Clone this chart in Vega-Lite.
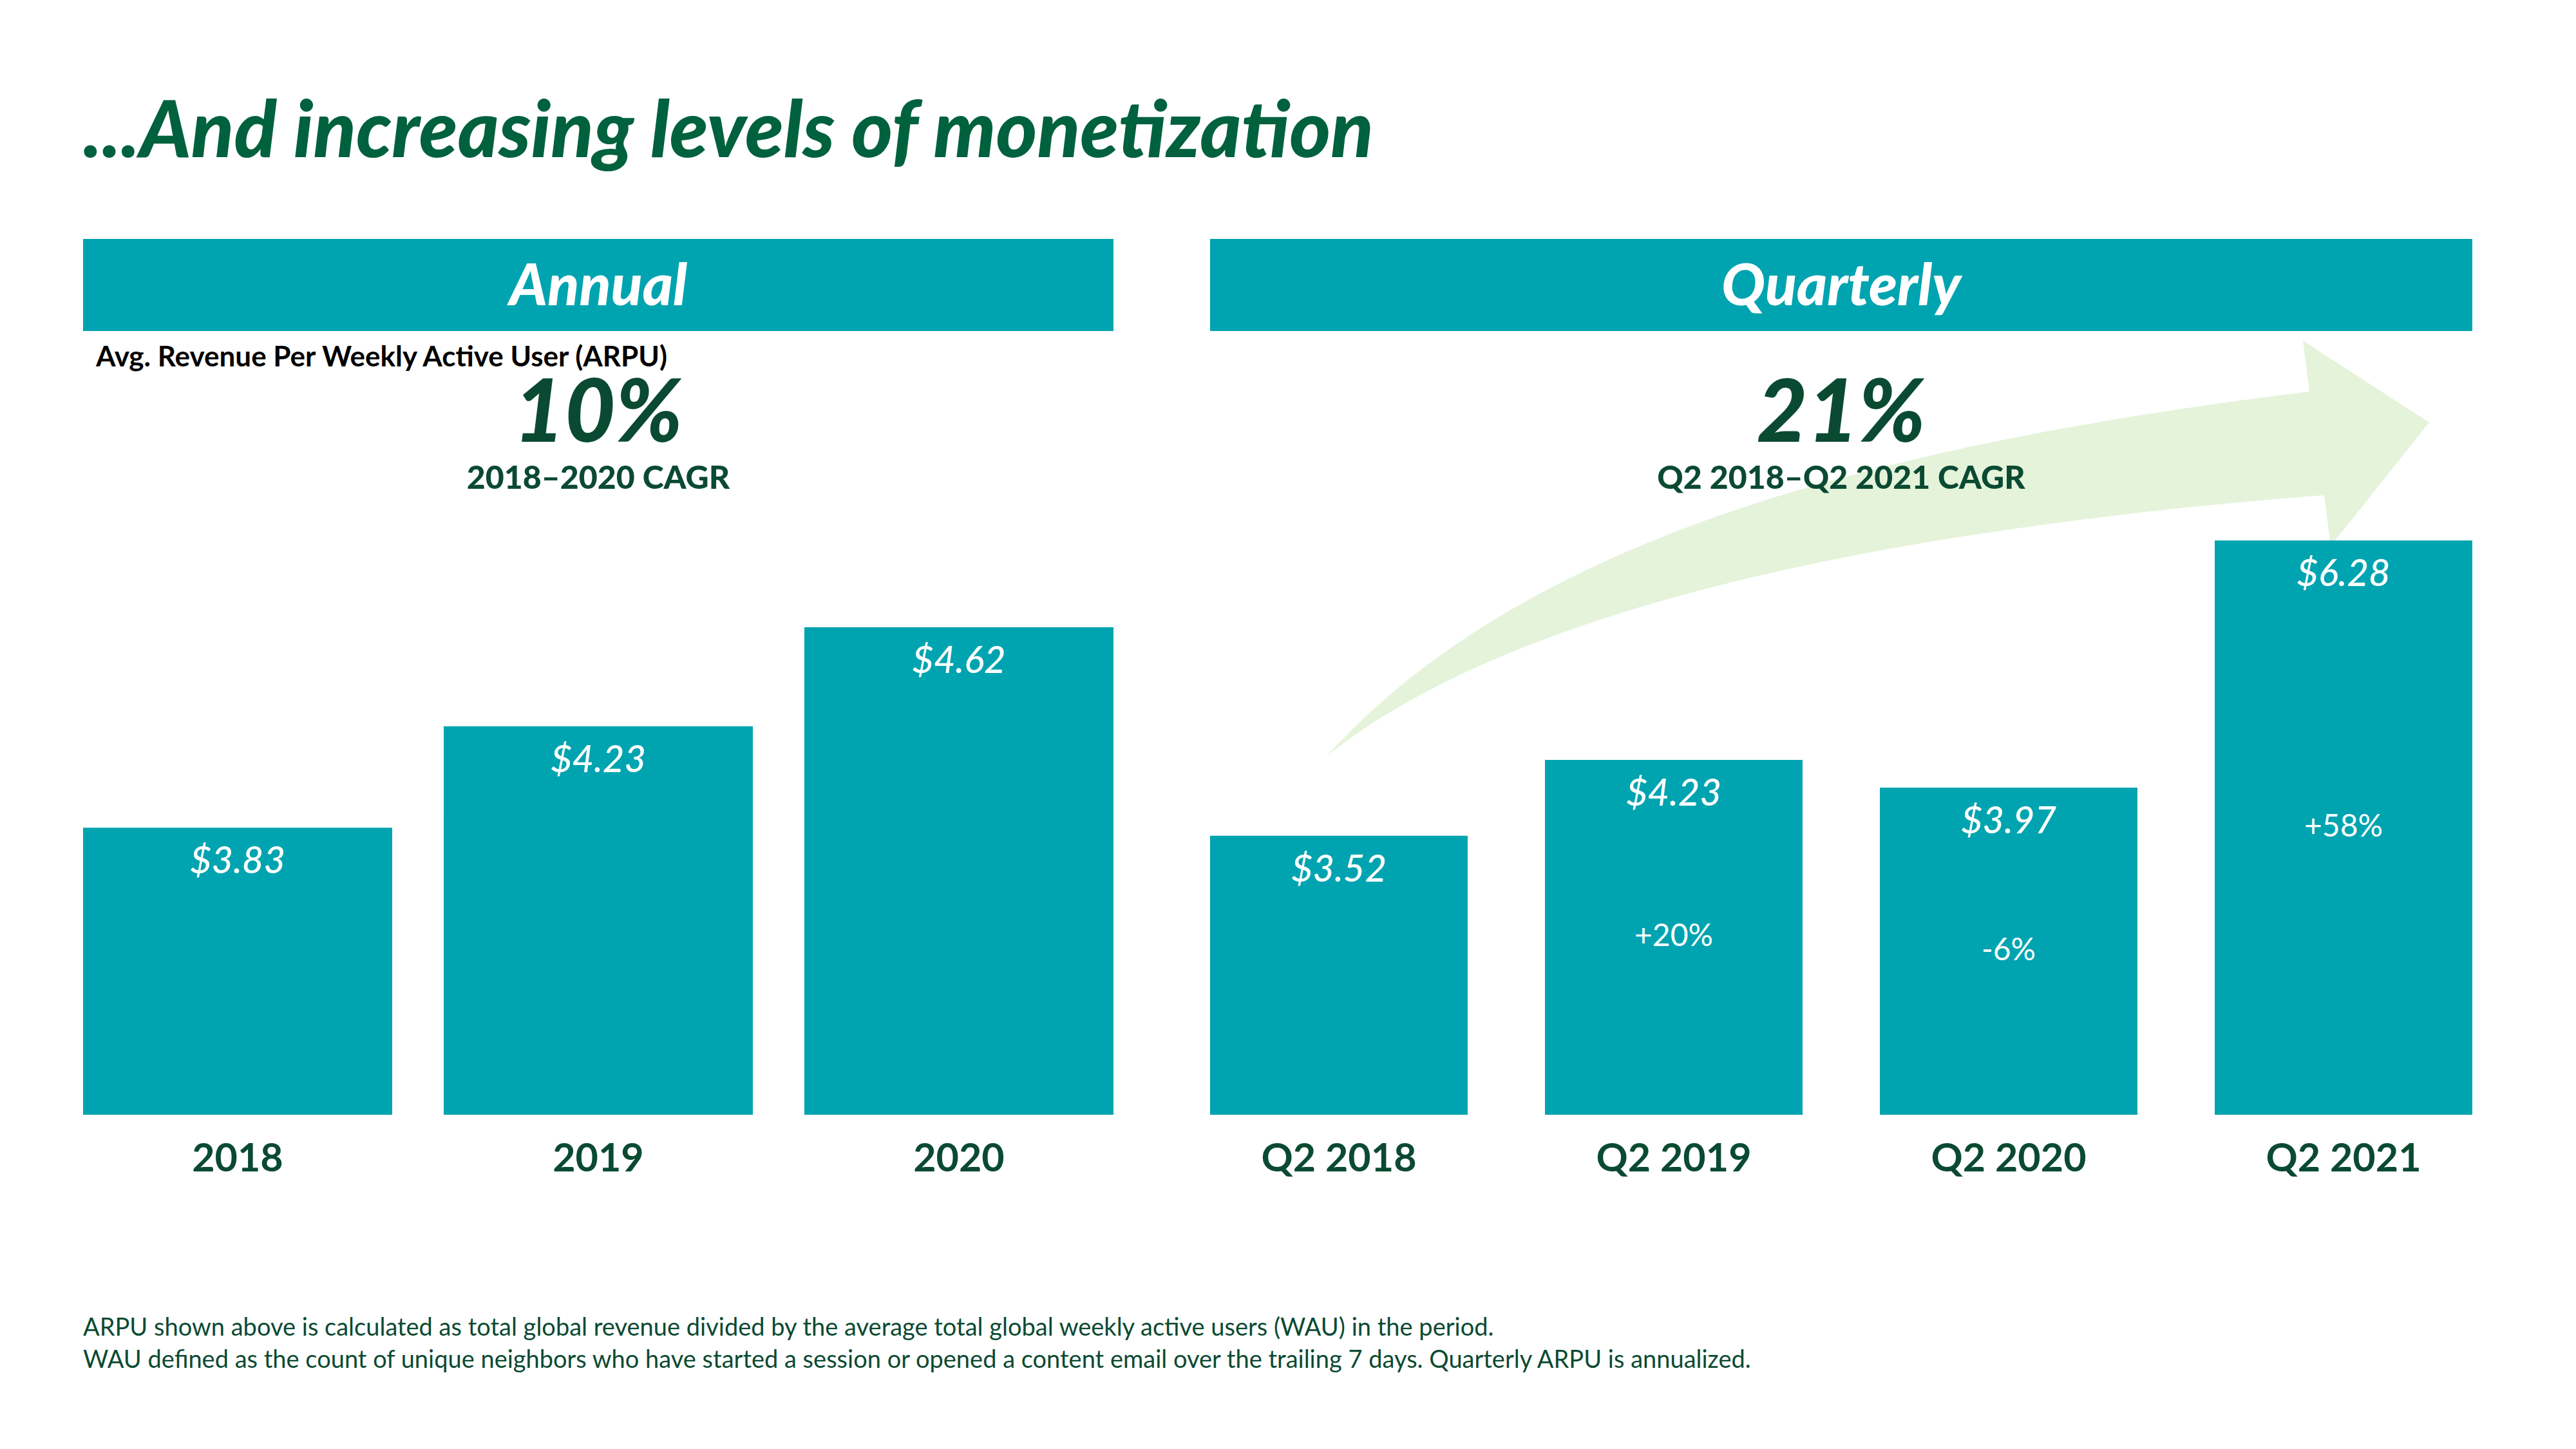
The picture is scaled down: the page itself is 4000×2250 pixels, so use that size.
{
  "$schema": "https://vega.github.io/schema/vega-lite/v6.json",
  "background": "white",
  "padding": {"left": 129, "top": 146, "right": 20, "bottom": 20},
  "config": {
    "font": "Lato",
    "view": {"stroke": null},
    "axis": {"grid": false}
  },
  "title": {
    "text": "...And increasing levels of monetization",
    "anchor": "start",
    "fontSize": 122,
    "fontStyle": "italic",
    "fontWeight": 900,
    "color": "#00613e",
    "offset": 101
  },
  "datasets": {
    "annual": [
      {"period": "2018", "arpu": 3.83},
      {"period": "2019", "arpu": 4.23},
      {"period": "2020", "arpu": 4.62}
    ],
    "quarterly": [
      {"period": "Q2 2018", "arpu": 3.52, "change": null},
      {"period": "Q2 2019", "arpu": 4.23, "change": "+20%"},
      {"period": "Q2 2020", "arpu": 3.97, "change": "-6%"},
      {"period": "Q2 2021", "arpu": 6.28, "change": "+58%"}
    ],
    "headers": [
      {"panel": "Annual"},
      {"panel": "Quarterly"}
    ]
  },
  "vconcat": [
    {
      "title": {
        "text": [
          "ARPU shown above is calculated as total global revenue divided by the average total global weekly active users (WAU) in the period.",
          "WAU defined as the count of unique neighbors who have started a session or opened a content email over the trailing 7 days. Quarterly ARPU is annualized."
        ],
        "orient": "bottom",
        "anchor": "start",
        "fontSize": 38,
        "lineHeight": 50,
        "fontWeight": "normal",
        "color": "#0b4a32",
        "offset": 214
      },
      "spacing": 150,
      "hconcat": [
        {
          "bounds": "flush",
          "spacing": 287,
          "vconcat": [
            {
              "width": 1600,
              "height": 143,
              "view": {"fill": "#00a4b0", "stroke": null},
              "data": {"name": "headers"},
              "transform": [{"filter": "datum.panel == 'Annual'"}],
              "title": {
                "text": "Avg. Revenue Per Weekly Active User (ARPU)",
                "orient": "bottom",
                "anchor": "start",
                "dx": 20,
                "offset": 20,
                "fontSize": 44,
                "fontWeight": "bold",
                "color": "black"
              },
              "mark": {"type": "text", "color": "white", "fontSize": 90, "fontStyle": "italic", "fontWeight": 900, "baseline": "middle", "align": "center", "dy": 4},
              "encoding": {"text": {"field": "panel"}}
            },
            {
              "width": 1600,
              "height": 930,
              "data": {"name": "annual"},
              "title": {
                "text": "10%",
                "subtitle": "2018–2020 CAGR",
                "anchor": "middle",
                "offset": 30,
                "fontSize": 136,
                "fontWeight": 900,
                "fontStyle": "italic",
                "color": "#0b4a32",
                "subtitleFontSize": 50,
                "subtitleFontWeight": 900,
                "subtitleColor": "#0b4a32",
                "subtitlePadding": 4
              },
              "encoding": {
                "x": {
                  "field": "period", "type": "nominal", "sort": null,
                  "scale": {"paddingInner": 0.142857, "paddingOuter": 0},
                  "axis": {"title": null, "labelAngle": 0, "ticks": false, "tickSize": 0, "domain": false, "labelPadding": 39, "labelLimit": 0, "labelFontSize": 61, "labelFontWeight": "bold", "labelColor": "#0b4a32"}
                },
                "y": {"field": "arpu", "type": "quantitative", "scale": {"domain": [2.699, 5.059], "zero": false, "clamp": true}, "axis": null}
              },
              "layer": [
                {"mark": {"type": "bar", "color": "#00a4b0"}},
                {
                  "mark": {"type": "text", "baseline": "alphabetic", "dy": 71, "color": "white", "fontSize": 58, "fontStyle": "italic", "fontWeight": 500},
                  "encoding": {"text": {"field": "arpu", "type": "quantitative", "format": "$.2f"}}
                }
              ]
            }
          ]
        },
        {
          "bounds": "flush",
          "spacing": 287,
          "vconcat": [
            {
              "width": 1960,
              "height": 143,
              "view": {"fill": "#00a4b0", "stroke": null},
              "data": {"name": "headers"},
              "transform": [{"filter": "datum.panel == 'Quarterly'"}],
              "layer": [
                {
                  "mark": {
                    "type": "point",
                    "shape": "M-0.799,0.7315C-0.499,0.4015,0.027,0.2515,0.727,0.1655L0.717,0.0865L0.913,0.2135L0.76,0.4055L0.75,0.3265C-0.05,0.3885,-0.549,0.5315,-0.799,0.7315Z",
                    "size": 4000000,
                    "filled": true,
                    "fill": "#e5f3da",
                    "opacity": 1,
                    "strokeWidth": 0
                  },
                  "encoding": {}
                },
                {
                  "mark": {"type": "text", "color": "white", "fontSize": 90, "fontStyle": "italic", "fontWeight": 900, "baseline": "middle", "align": "center", "dy": 4},
                  "encoding": {"text": {"field": "panel"}}
                }
              ]
            },
            {
              "width": 1960,
              "height": 930,
              "data": {"name": "quarterly"},
              "title": {
                "text": "21%",
                "subtitle": "Q2 2018–Q2 2021 CAGR",
                "anchor": "middle",
                "offset": 30,
                "fontSize": 136,
                "fontWeight": 900,
                "fontStyle": "italic",
                "color": "#0b4a32",
                "subtitleFontSize": 50,
                "subtitleFontWeight": 900,
                "subtitleColor": "#0b4a32",
                "subtitlePadding": 4
              },
              "encoding": {
                "x": {
                  "field": "period", "type": "nominal", "sort": null,
                  "scale": {"paddingInner": 0.230769, "paddingOuter": 0},
                  "axis": {"title": null, "labelAngle": 0, "ticks": false, "tickSize": 0, "domain": false, "labelPadding": 39, "labelLimit": 0, "labelFontSize": 61, "labelFontWeight": "bold", "labelColor": "#0b4a32"}
                }
              },
              "layer": [
                {
                  "mark": {"type": "bar", "color": "#00a4b0"},
                  "encoding": {"y": {"field": "arpu", "type": "quantitative", "scale": {"domain": [0.912, 6.511], "zero": false, "clamp": true}, "axis": null}}
                },
                {
                  "mark": {"type": "text", "baseline": "alphabetic", "dy": 71, "color": "white", "fontSize": 58, "fontStyle": "italic", "fontWeight": 500},
                  "encoding": {
                    "y": {"field": "arpu", "type": "quantitative", "scale": {"domain": [0.912, 6.511], "zero": false, "clamp": true}, "axis": null},
                    "text": {"field": "arpu", "type": "quantitative", "format": "$.2f"}
                  }
                },
                {
                  "transform": [{"filter": "datum.change != null"}],
                  "mark": {"type": "text", "baseline": "middle", "color": "white", "fontSize": 48, "fontWeight": "normal"},
                  "encoding": {
                    "y": {"field": "arpu", "type": "quantitative", "scale": {"domain": [0.912, 12.11], "zero": false, "clamp": true}, "axis": null},
                    "text": {"field": "change"}
                  }
                }
              ],
              "resolve": {"scale": {"y": "independent"}}
            }
          ]
        }
      ]
    }
  ]
}
